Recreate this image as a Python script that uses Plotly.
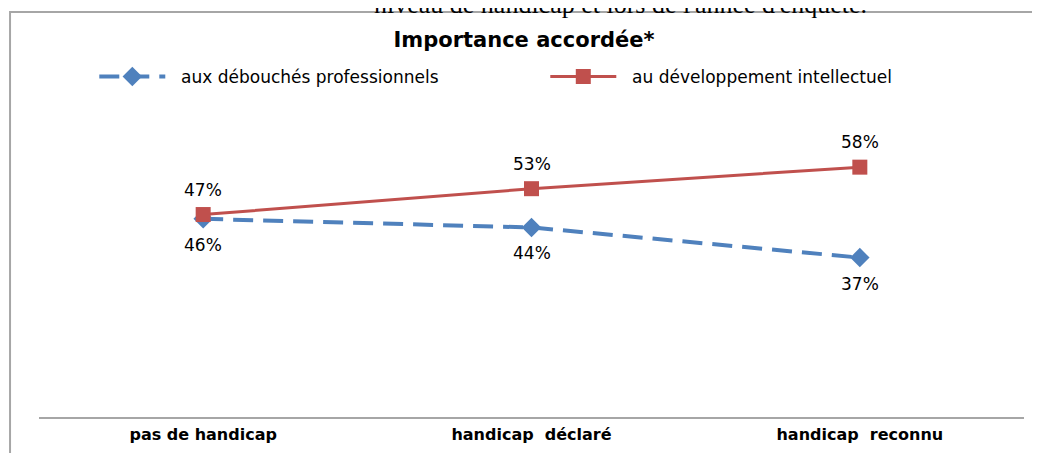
import plotly.graph_objects as go

# categories and series (percent)
categories = ["pas de handicap", "handicap\u00a0 déclaré", "handicap\u00a0 reconnu"]
debouches = [46, 44, 37]
developpement = [47, 53, 58]
series_names = ["aux débouchés professionnels", "au développement intellectuel"]

BLUE = "#4F81BD"
RED = "#C0504D"
AXIS_GREY = "#A6A6A6"
LABEL_FONT = "DejaVu Sans"

# the page body has an 8px margin, so the figure is sized/offset for it
fig = go.Figure()
fig.add_trace(go.Scatter(
    x=categories, y=debouches, name="\u00a0\u00a0" + series_names[0],
    mode="lines+markers",
    line=dict(color=BLUE, width=4, dash="20px,10px"),
    marker=dict(symbol="diamond", size=15, color=BLUE),
))
fig.add_trace(go.Scatter(
    x=categories, y=developpement, name="\u00a0\u00a0" + series_names[1],
    mode="lines+markers",
    line=dict(color=RED, width=3),
    marker=dict(symbol="square", size=15, color=RED),
))

# data labels: red above, blue below
for cat, v in zip(categories, developpement):
    fig.add_annotation(x=cat, y=v, text=f"{v}%", showarrow=False, yshift=25,
                       font=dict(family=LABEL_FONT, size=17, color="#000000"))
for cat, v in zip(categories, debouches):
    fig.add_annotation(x=cat, y=v, text=f"{v}%", showarrow=False, yshift=-26,
                       font=dict(family=LABEL_FONT, size=17, color="#000000"))

# cut-off caption above the chart frame
fig.add_annotation(xref="paper", yref="paper", x=0.590, y=1.338,
                   text="niveau de handicap et lors de l'année d'enquête.",
                   showarrow=False, xanchor="center", yanchor="middle",
                   font=dict(family="Liberation Serif", size=26, color="#000000"))

# chart frame
fig.add_shape(type="rect", xref="paper", yref="paper",
              x0=-0.0294, x1=1.03, y0=-0.3, y1=1.315,
              line=dict(color=AXIS_GREY, width=2), fillcolor="rgba(0,0,0,0)",
              layer="below")

fig.update_layout(
    width=1032, height=445,
    paper_bgcolor="white", plot_bgcolor="white",
    margin=dict(l=31, r=16, t=101, b=36, autoexpand=False),
    title=dict(text="<b>Importance accordée*</b>", x=0.5, xanchor="center",
               y=1 - 32 / 445, yanchor="middle",
               font=dict(family=LABEL_FONT, size=21, color="#000000")),
    legend=dict(orientation="h", x=0.514, xanchor="center", y=1.104, yanchor="middle",
                font=dict(family=LABEL_FONT, size=17, color="#000000"),
                itemwidth=66, entrywidth=370, bgcolor="rgba(0,0,0,0)"),
    xaxis=dict(type="category", range=[-0.5, 2.5], showline=True,
               linecolor=AXIS_GREY, linewidth=2, showgrid=False, zeroline=False,
               ticks="", ticklabelstandoff=2,
               tickfont=dict(family=LABEL_FONT, size=16, color="#000000", weight="bold")),
    yaxis=dict(range=[0, 71.5], visible=False, showgrid=False, zeroline=False),
    showlegend=True,
)

fig.write_html("out.html")
